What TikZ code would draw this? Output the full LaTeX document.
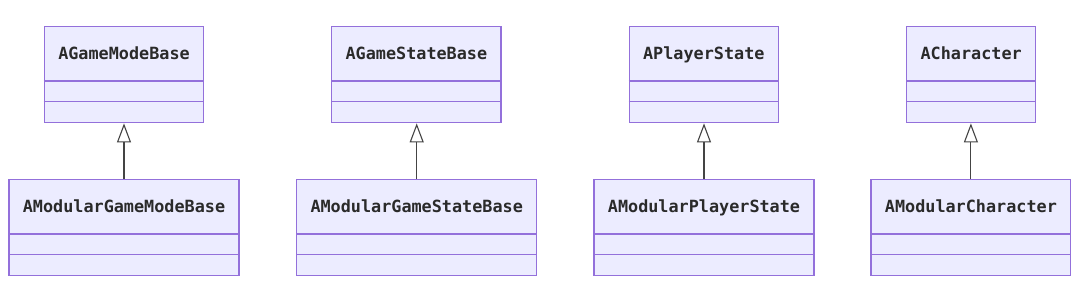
\documentclass[tikz,border=0pt]{standalone}
\usepackage{fontspec}
\setmonofont{DejaVu Sans Mono}
\usetikzlibrary{calc,arrows.meta}
\definecolor{clsfill}{HTML}{ECECFF}
\definecolor{clsdraw}{HTML}{9370DB}
\definecolor{clstext}{HTML}{2A2A2A}
\definecolor{linkcol}{HTML}{444444}
\tikzset{
  clsbox/.style={draw=clsdraw, fill=clsfill, line width=1.4pt, rectangle, inner sep=0pt, minimum height=96pt},
  clslabel/.style={text=clstext, font=\fontsize{16.8}{18}\selectfont\ttfamily\bfseries, inner sep=0pt, anchor=base},
  clsline/.style={draw=clsdraw, line width=1.2pt},
  inherit/.style={draw=linkcol, line width=1.1pt, -{Triangle[open, length=19pt, width=14pt, fill=white]}}
}
\newcommand{\umlclassbox}[5]{%
  \node[clsbox, minimum width=#4, anchor=north] (#1) at (#3, 300-#5) {};
  \node[clslabel] (#1-t) at ($(#1.north)+(0,-33.7)$) {#2};
  \draw[clsline] ($(#1.north west)+(0,-55)$) -- ($(#1.north east)+(0,-55)$);
  \draw[clsline] ($(#1.north west)+(0,-75.5)$) -- ($(#1.north east)+(0,-75.5)$);
}
\begin{document}
\begin{tikzpicture}[x=1pt,y=1pt]
\useasboundingbox (0,0) rectangle (1080,300);
\fill[white] (0,0) rectangle (1080,300);
\umlclassbox{gm}{AGameModeBase}{124}{159.4pt}{26}
\umlclassbox{mgm}{AModularGameModeBase}{124}{230pt}{179}
\umlclassbox{gs}{AGameStateBase}{416.4}{169.3pt}{26}
\umlclassbox{mgs}{AModularGameStateBase}{416.7}{240pt}{179}
\umlclassbox{ps}{APlayerState}{703.8}{149pt}{26}
\umlclassbox{mps}{AModularPlayerState}{704}{220pt}{179}
\umlclassbox{ch}{ACharacter}{971.2}{129pt}{26}
\umlclassbox{mch}{AModularCharacter}{970.9}{199.7pt}{179}
\draw[inherit] (mgm.north) -- (mgm.north |- gm.south);
\draw[inherit] (mgs.north) -- (mgs.north |- gs.south);
\draw[inherit] (mps.north) -- (mps.north |- ps.south);
\draw[inherit] (mch.north) -- (mch.north |- ch.south);
\end{tikzpicture}
\end{document}
